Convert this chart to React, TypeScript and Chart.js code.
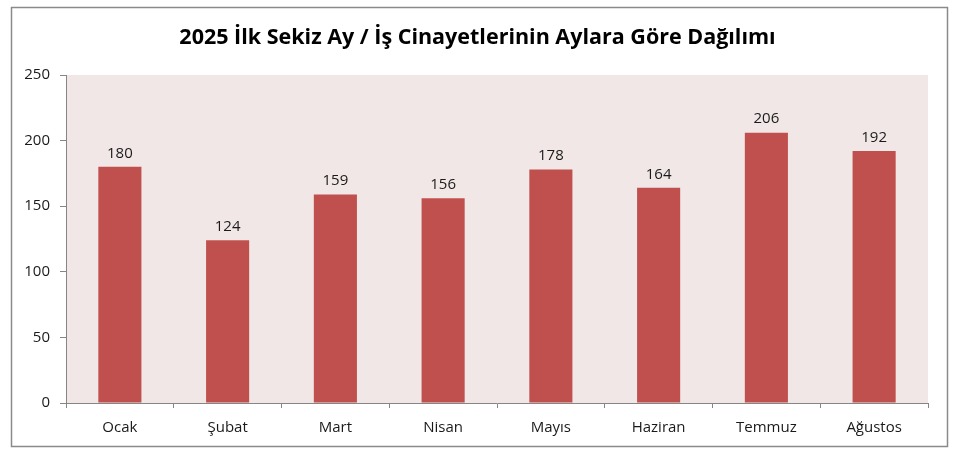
import React, { useEffect, useRef } from 'react';
import { Chart, registerables, Plugin } from 'chart.js';

Chart.register(...registerables);

const chartTitle = '2025 İlk Sekiz Ay / İş Cinayetlerinin Aylara Göre Dağılımı';
const months = ['Ocak', 'Şubat', 'Mart', 'Nisan', 'Mayıs', 'Haziran', 'Temmuz', 'Ağustos'];
const deaths = [180, 124, 159, 156, 178, 164, 206, 192];
const yTicks = [0, 50, 100, 150, 200, 250];

const FONT = "'Open Sans', 'Noto Sans', sans-serif";

// white page, pink plot area, grey outer frame and the title
const framePlugin: Plugin<'bar'> = {
  id: 'frame',
  beforeDraw(chart) {
    const { ctx, chartArea } = chart;
    ctx.save();
    ctx.fillStyle = '#ffffff';
    ctx.fillRect(0, 0, chart.width, chart.height);
    ctx.fillStyle = '#f2e7e7';
    ctx.fillRect(chartArea.left, chartArea.top, chartArea.right - chartArea.left, chartArea.bottom - chartArea.top);
    ctx.strokeStyle = '#8a8a8a';
    ctx.lineWidth = 1.5;
    ctx.strokeRect(11.5, 7.5, chart.width - 19, chart.height - 10);

    ctx.fillStyle = '#000000';
    ctx.font = `bold 21.5px ${FONT}`;
    ctx.textAlign = 'center';
    ctx.textBaseline = 'middle';
    ctx.fillText(chartTitle, chart.width / 2, 38);
    ctx.restore();
  },
};

// value labels above each bar
const valueLabels: Plugin<'bar'> = {
  id: 'valueLabels',
  afterDatasetsDraw(chart) {
    const { ctx } = chart;
    const meta = chart.getDatasetMeta(0);
    ctx.save();
    ctx.font = `15px ${FONT}`;
    ctx.fillStyle = '#1a1a1a';
    ctx.textAlign = 'center';
    ctx.textBaseline = 'bottom';
    meta.data.forEach((bar, i) => {
      ctx.fillText(String(deaths[i]), bar.x, bar.y - 6);
    });
    ctx.restore();
  },
};

const BarChart: React.FC = () => {
  const canvasRef = useRef<HTMLCanvasElement | null>(null);

  useEffect(() => {
    if (!canvasRef.current) return;
    const chart = new Chart(canvasRef.current, {
      type: 'bar',
      data: {
        labels: months,
        datasets: [
          {
            data: deaths,
            backgroundColor: '#c0504d',
            borderWidth: 0,
            barPercentage: 0.4,
            categoryPercentage: 1,
          },
        ],
      },
      options: {
        animation: false,
        responsive: false,
        layout: { padding: { top: 75, right: 27, bottom: 0, left: 0 } },
        plugins: {
          legend: { display: false },
          tooltip: { enabled: false },
          title: { display: false },
        },
        scales: {
          x: {
            afterFit: (scale) => {
              scale.height = 46;
            },
            grid: {
              display: true,
              drawOnChartArea: false,
              offset: true,
              tickLength: 5,
              color: '#868686',
            },
            border: { color: '#868686' },
            ticks: {
              color: '#1a1a1a',
              padding: 11,
              font: { family: FONT, size: 15 },
            },
          },
          y: {
            min: 0,
            max: 250,
            afterFit: (scale) => {
              scale.width = 66;
            },
            afterBuildTicks: (scale) => {
              scale.ticks = yTicks.map((v) => ({ value: v }));
            },
            grid: {
              display: true,
              drawOnChartArea: false,
              tickLength: 6,
              color: '#868686',
            },
            border: { color: '#868686' },
            ticks: {
              color: '#1a1a1a',
              padding: 10,
              font: { family: FONT, size: 15 },
            },
          },
        },
      },
      plugins: [framePlugin, valueLabels],
    });

    return () => {
      chart.destroy();
    };
  }, []);

  return <canvas ref={canvasRef} width={955} height={449} style={{ display: 'block' }} />;
};

const App: React.FC = () => (
  <div style={{ position: 'fixed', left: 0, top: 0, width: 955, height: 449, background: '#fff' }}>
    <BarChart />
  </div>
);

export default App;
